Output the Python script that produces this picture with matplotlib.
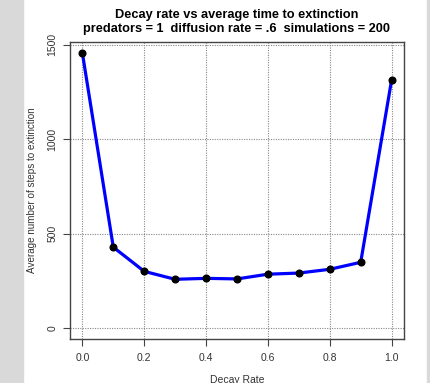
import matplotlib
matplotlib.use('Agg')
import matplotlib.pyplot as plt
from matplotlib.patches import Rectangle

plt.rcParams['font.family'] = ['Liberation Sans', 'DejaVu Sans']

# data
decay_rate = [0.0, 0.1, 0.2, 0.3, 0.4, 0.5, 0.6, 0.7, 0.8, 0.9, 1.0]
avg_steps = [1456, 428, 300, 258, 263, 260, 285, 291, 311, 348, 1314]
x_ticks = [0.0, 0.2, 0.4, 0.6, 0.8, 1.0]
x_tick_labels = ['0.0', '0.2', '0.4', '0.6', '0.8', '1.0']
y_ticks = [0, 500, 1000, 1500]

W, H = 431, 383
fig = plt.figure(figsize=(W / 100, H / 100), dpi=100)

# gray page strips on the sides
fig.patches.append(Rectangle((0, 0), 23 / W, 1, transform=fig.transFigure,
                             color='#d9d9d9', zorder=-5))
fig.patches.append(Rectangle((427 / W, 0), 4 / W, 1, transform=fig.transFigure,
                             color='#d9d9d9', zorder=-5))

ax = fig.add_axes([70 / W, 1 - 339 / H, (404 - 70) / W, (339 - 42) / H])

ax.plot(decay_rate, avg_steps, color='#0000ff', lw=2.3, zorder=3)
ax.plot(decay_rate, avg_steps, 'o', color='black', ms=4.8, zorder=4)

ax.set_xlim(-0.04, 1.04)
ax.set_ylim(-58, 1514)
ax.set_xticks(x_ticks)
ax.set_xticklabels(x_tick_labels)
ax.set_yticks(y_ticks)
ax.set_yticklabels([str(v) for v in y_ticks], rotation=90, va='center')

ax.grid(True, color='#888888', linestyle=(0, (1, 1.2)), lw=0.8)
ax.set_axisbelow(True)

for s in ax.spines.values():
    s.set_color('#444444')
    s.set_linewidth(1)

ax.tick_params(axis='both', direction='out', length=5, width=0.8, color='#444444',
               labelsize=7.5, labelcolor='#333333')
ax.tick_params(axis='x', pad=5)
ax.tick_params(axis='y', pad=4)

ax.set_title('Decay rate vs average time to extinction\n'
             'predators = 1  diffusion rate = .6  simulations = 200',
             fontsize=9.2, fontweight='bold', pad=7, linespacing=1.2)
ax.set_ylabel('Average number of steps to extinction', fontsize=7.1, color='#333333')
ax.yaxis.set_label_coords(-33 / 334, 0.5)
fig.text(237 / W, 1 - 375 / H, 'Decay Rate', ha='center', va='top', fontsize=7.5,
         color='#333333')

fig.savefig('out.png', dpi=100)
